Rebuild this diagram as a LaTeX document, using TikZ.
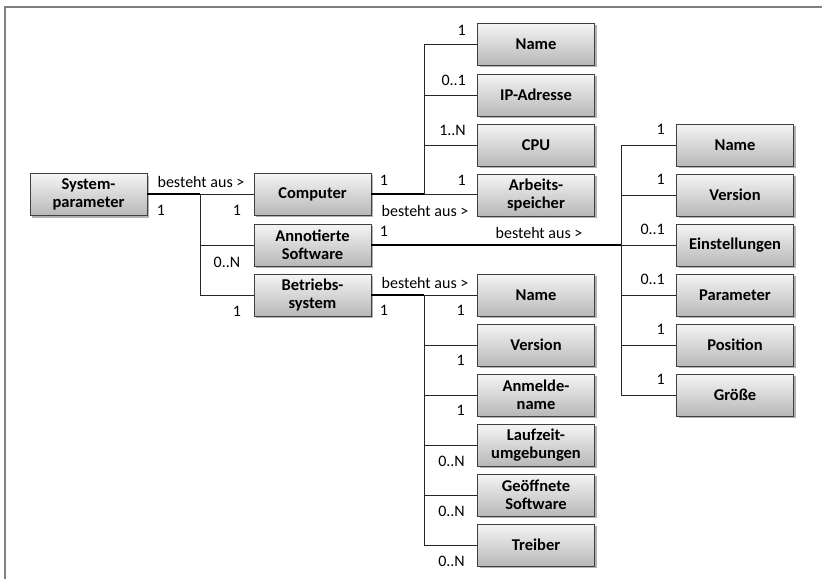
\documentclass[tikz,border=0pt]{standalone}
\usepackage{fontspec}
\setmainfont{Carlito}
\usetikzlibrary{shadows}
\begin{document}
\begin{tikzpicture}[x=1pt,y=-1pt,
  box/.style={draw=black!75, line width=0.8pt, top color=black!4, bottom color=black!28,
    minimum width=117pt, minimum height=42pt, inner sep=1pt, align=center,
    font=\fontsize{16.5}{18}\selectfont\bfseries,
    drop shadow={shadow xshift=2pt, shadow yshift=-2pt, opacity=0.5, fill=black!60}},
  lbl/.style={font=\fontsize{16}{18}\selectfont, inner sep=0pt},
  mainln/.style={line width=1.6pt, black},
  brln/.style={line width=0.8pt, black!85}]
\useasboundingbox (0,0) rectangle (822,579);
\draw[line width=2.5pt, black!50] (5,579) -- (5,7) -- (822,7);

% level 0 / 1
\node[box] (sys)  at (88.5,194.5) {System-\\parameter};
\node[box] (comp) at (312.5,194) {Computer};
\node[box] (anno) at (312.5,245) {Annotierte\\Software};
\node[box] (betr) at (312.5,295) {Betriebs-\\system};

% computer children
\node[box] (cname) at (536,44)  {Name};
\node[box] (cip)   at (536,95)  {IP-Adresse};
\node[box] (ccpu)  at (536,145) {CPU};
\node[box] (cmem)  at (536,195) {Arbeits-\\speicher};

% software children
\node[box] (sname) at (735,145) {Name};
\node[box] (sver)  at (735,195) {Version};
\node[box] (sein)  at (735,245) {Einstellungen};
\node[box] (spar)  at (735,295) {Parameter};
\node[box] (spos)  at (735,345) {Position};
\node[box] (sgr)   at (735,395) {Größe};

% OS children
\node[box] (oname) at (536,295) {Name};
\node[box] (over)  at (536,345) {Version};
\node[box] (oanm)  at (536,395) {Anmelde-\\name};
\node[box] (olau)  at (536,445) {Laufzeit-\\umgebungen};
\node[box] (ogeo)  at (536,495) {Geöffnete\\Software};
\node[box] (otre)  at (536,545) {Treiber};

% junctions
\coordinate (j0) at (200,194);
\coordinate (j1) at (424,194);
\coordinate (j2) at (621,245);
\coordinate (j3) at (424,295);

% connectors: Systemparameter
\draw[mainln] (sys.east |- j0) -- (j0);
\draw[brln] (j0) -- (comp.west |- j0);
\draw[brln] (j0) |- (anno.west);
\draw[brln] (j0) |- (betr.west);

% Computer
\draw[mainln] (comp.east |- j1) -- (j1);
\draw[brln] (j1) |- (cname.west);
\draw[brln] (j1 |- cip.west) -- (cip.west);
\draw[brln] (j1 |- ccpu.west) -- (ccpu.west);
\draw[brln] (j1) -- (cmem.west |- j1);

% Annotierte Software
\draw[mainln] (anno.east) -- (j2);
\draw[brln] (j2 |- sname.west) -- (j2 |- sgr.west);
\draw[brln] (j2 |- sname.west) -- (sname.west);
\draw[brln] (j2 |- sver.west) -- (sver.west);
\draw[brln] (j2) -- (sein.west);
\draw[brln] (j2 |- spar.west) -- (spar.west);
\draw[brln] (j2 |- spos.west) -- (spos.west);
\draw[brln] (j2 |- sgr.west) -- (sgr.west);

% Betriebssystem
\draw[mainln] (betr.east) -- (j3);
\draw[brln] (j3) -- (oname.west);
\draw[brln] (j3) -- (j3 |- otre.west);
\draw[brln] (j3 |- over.west) -- (over.west);
\draw[brln] (j3 |- oanm.west) -- (oanm.west);
\draw[brln] (j3 |- olau.west) -- (olau.west);
\draw[brln] (j3 |- ogeo.west) -- (ogeo.west);
\draw[brln] (j3 |- otre.west) -- (otre.west);

% labels: Systemparameter
\node[lbl] (l0a) at (201,182) {besteht aus >};
\node[lbl] (l0b) at (161,210) {1};
\node[lbl] (l0c) at (237,210) {1};
\node[lbl] (l0d) at (227,262) {0..N};
\node[lbl] (l0e) at (237,311) {1};

% labels: Computer
\node[lbl] (l1a) at (384,180) {1};
\node[lbl] (l1b) at (425,211) {besteht aus >};
\node[lbl, anchor=east] (l1c) at (466,30)  {1};
\node[lbl, anchor=east] (l1d) at (466,80)  {0..1};
\node[lbl, anchor=east] (l1e) at (466,130) {1..N};
\node[lbl, anchor=east] (l1f) at (466,180) {1};

% labels: Annotierte Software
\node[lbl] (l2a) at (384,231) {1};
\node[lbl] (l2b) at (539,233) {besteht aus >};
\node[lbl, anchor=east] (l2c) at (665,129) {1};
\node[lbl, anchor=east] (l2d) at (665,179) {1};
\node[lbl, anchor=east] (l2e) at (665,229) {0..1};
\node[lbl, anchor=east] (l2f) at (665,279) {0..1};
\node[lbl, anchor=east] (l2g) at (665,329) {1};
\node[lbl, anchor=east] (l2h) at (665,379) {1};

% labels: Betriebssystem
\node[lbl] (l3a) at (425,283) {besteht aus >};
\node[lbl] (l3b) at (384,310) {1};
\node[lbl, anchor=east] (l3c) at (465,310) {1};
\node[lbl, anchor=east] (l3d) at (465,360) {1};
\node[lbl, anchor=east] (l3e) at (465,410) {1};
\node[lbl, anchor=east] (l3f) at (465,461) {0..N};
\node[lbl, anchor=east] (l3g) at (465,511) {0..N};
\node[lbl, anchor=east] (l3h) at (465,561) {0..N};
\end{tikzpicture}
\end{document}
